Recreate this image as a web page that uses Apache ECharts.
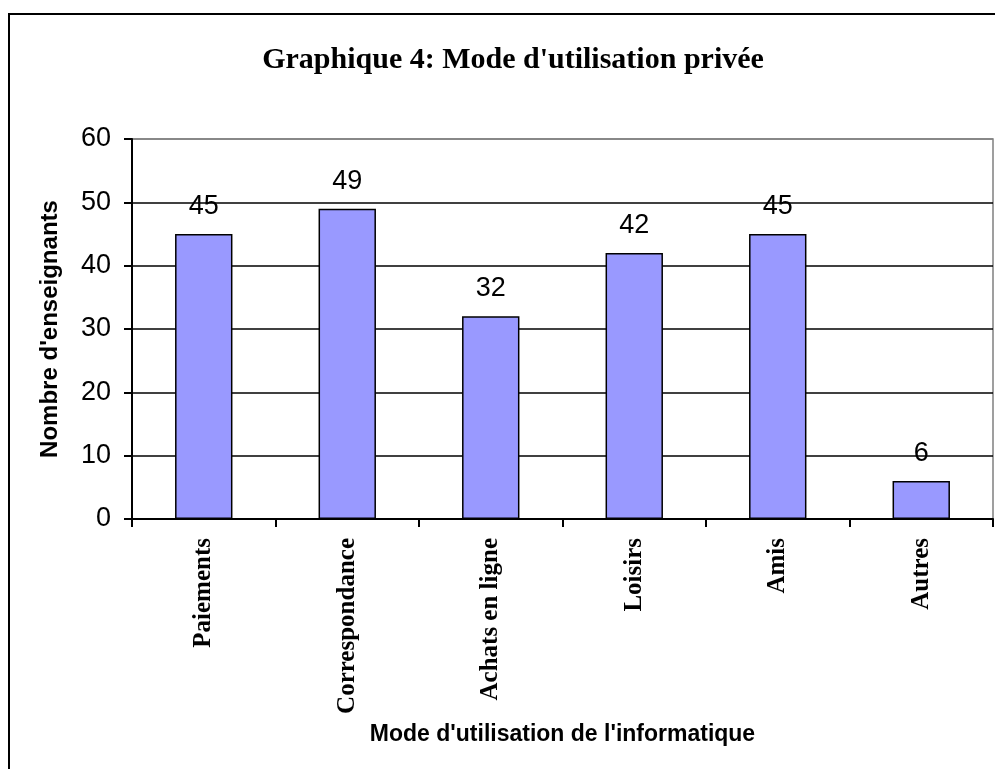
<!DOCTYPE html>
<html>
<head>
<meta charset="utf-8">
<script src="https://cdn.jsdelivr.net/npm/echarts@6/dist/echarts.min.js"></script>
<style>
  html, body { margin: 0; padding: 0; background: #fff; overflow: hidden; }
  #chart { width: 995px; height: 769px; }
</style>
</head>
<body>
<div id="chart"></div>
<script>
// categories and counts
const modes = ['Paiements', 'Correspondance', 'Achats en ligne', 'Loisirs', 'Amis', 'Autres'];
const enseignants = [45, 49, 32, 42, 45, 6];
const yTicks = [0, 10, 20, 30, 40, 50, 60];

const chart = echarts.init(document.getElementById('chart'));

const serif = '"Liberation Serif", "Times New Roman", serif';
const sans = '"Liberation Sans", Arial, sans-serif';

const options = {
  animation: false,
  backgroundColor: '#fff',
  // outer frame of the chart (right / bottom edges fall outside the window)
  graphic: [{
    type: 'rect',
    shape: { x: 9, y: 14, width: 1000, height: 800 },
    style: { fill: 'none', stroke: '#000', lineWidth: 2 },
    silent: true
  }],
  title: {
    text: "Graphique 4: Mode d'utilisation privée",
    left: 508,
    top: 40,
    textAlign: 'center',
    textStyle: { fontFamily: serif, fontWeight: 'bold', fontSize: 30, color: '#000' }
  },
  grid: {
    left: 132, right: 2, top: 139, bottom: 250,
    show: true, borderColor: '#808080', borderWidth: 1.5
  },
  xAxis: {
    type: 'category',
    data: modes,
    name: "Mode d'utilisation de l'informatique",
    nameLocation: 'middle',
    nameGap: 204,
    nameTextStyle: { fontFamily: sans, fontWeight: 'bold', fontSize: 23, color: '#000' },
    axisLine: { lineStyle: { color: '#000', width: 2 } },
    axisTick: { show: true, alignWithLabel: false, length: 8, lineStyle: { color: '#000', width: 2 } },
    axisLabel: {
      rotate: 90, margin: 19, interval: 0,
      fontFamily: serif, fontWeight: 'bold', fontSize: 25, color: '#000'
    }
  },
  yAxis: {
    type: 'value',
    min: yTicks[0],
    max: yTicks[yTicks.length - 1],
    interval: 10,
    name: "Nombre d'enseignants",
    nameLocation: 'middle',
    nameGap: 70,
    nameRotate: 90,
    nameTextStyle: { fontFamily: sans, fontWeight: 'bold', fontSize: 24, color: '#000' },
    axisLine: { show: true, lineStyle: { color: '#000', width: 2 } },
    axisTick: { show: true, length: 8, lineStyle: { color: '#000', width: 2 } },
    axisLabel: { margin: 21, fontFamily: sans, fontSize: 27, color: '#000' },
    splitLine: {
      show: true,
      lineStyle: { color: ['#000', '#000', '#000', '#000', '#000', '#000', '#808080'], width: 1.5 }
    }
  },
  series: [{
    type: 'bar',
    name: "Nombre d'enseignants",
    data: enseignants,
    barWidth: '40%',
    itemStyle: { color: '#9999FF', borderColor: '#000', borderWidth: 1.5 },
    label: {
      show: true, position: 'top', distance: 14,
      fontFamily: sans, fontSize: 27, color: '#000'
    }
  }]
};

chart.setOption(options);
</script>
</body>
</html>
